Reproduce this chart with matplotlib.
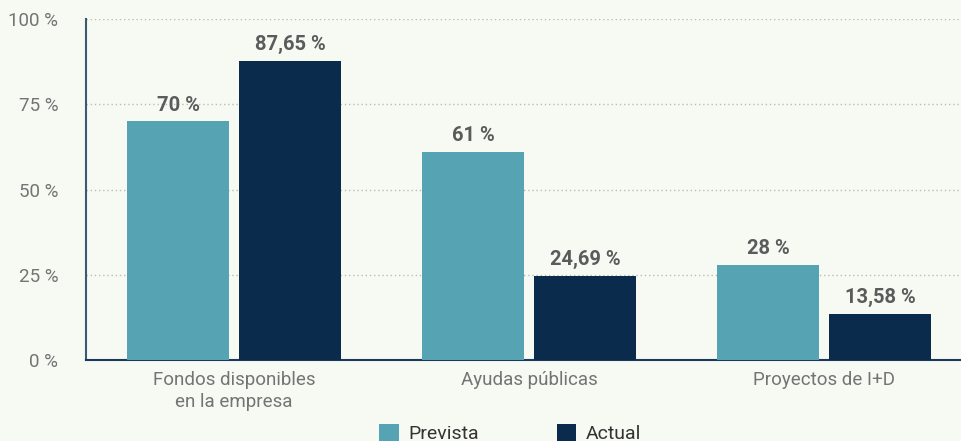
import matplotlib
matplotlib.use("Agg")
from matplotlib import pyplot as plt
from matplotlib.patches import Patch
import numpy as np

categories = ["Fondos disponibles\nen la empresa", "Ayudas públicas", "Proyectos de I+D"]
prevista = [70, 61, 28]
actual = [87.65, 24.69, 13.58]
series_names = ["Prevista", "Actual"]
yticks = [0, 25, 50, 75, 100]


def fmt(v):
    s = ("%.2f" % v).rstrip("0").rstrip(".")
    return s.replace(".", ",") + " %"


plt.rcParams['font.family'] = ['Roboto', 'DejaVu Sans']

bg = "#f7f9f3"
c_prev = "#56a3b4"
c_act = "#0a2b4c"

fig = plt.figure(figsize=(9.61, 4.41), dpi=100, facecolor=bg)
ax = fig.add_axes([0.0895, 0.1837, 0.9105, 0.773])
ax.set_facecolor(bg)

x = np.arange(len(categories))
w = 0.346
off = 0.19
b1 = ax.bar(x - off, prevista, width=w, color=c_prev, zorder=3)
b2 = ax.bar(x + off, actual, width=w, color=c_act, zorder=3)

for bars, vals in ((b1, prevista), (b2, actual)):
    for b, v in zip(bars, vals):
        ax.text(b.get_x() + b.get_width() / 2, v + 2, fmt(v), ha='center', va='bottom',
                fontsize=14.5, fontweight='bold', color='#5b5b5b', zorder=4)

ax.set_xlim(-0.502, 2.464)
ax.set_ylim(0, 100)
ax.set_yticks(yticks)
ax.set_yticklabels(["%d %%" % t for t in yticks])
ax.set_xticks(x)
ax.set_xticklabels(categories, linespacing=1.25)
ax.tick_params(axis='y', length=0, pad=20, labelsize=13.5, labelcolor='#747474')
ax.tick_params(axis='x', length=0, pad=8, labelsize=13.5, labelcolor='#747474')

ax.grid(axis='y', linestyle=(0, (1, 2)), color='#bbbbbb', linewidth=1, zorder=0)
ax.spines['top'].set_visible(False)
ax.spines['right'].set_visible(False)
ax.spines['left'].set_color('#3d5a75')
ax.spines['left'].set_linewidth(1.5)
ax.spines['bottom'].set_color('#1a3a5c')
ax.spines['bottom'].set_linewidth(1.5)

handles = [Patch(facecolor=c_prev), Patch(facecolor=c_act)]
fig.legend(handles, series_names, loc='upper center', bbox_to_anchor=(0.531, 0.061),
           ncol=2, frameon=False, prop={'size': 14},
           handlelength=1.0, handleheight=1.0,
           handletextpad=0.5, columnspacing=4.0, borderpad=0, labelcolor='#333333')

fig.savefig("out.png", dpi=100, facecolor=bg)
